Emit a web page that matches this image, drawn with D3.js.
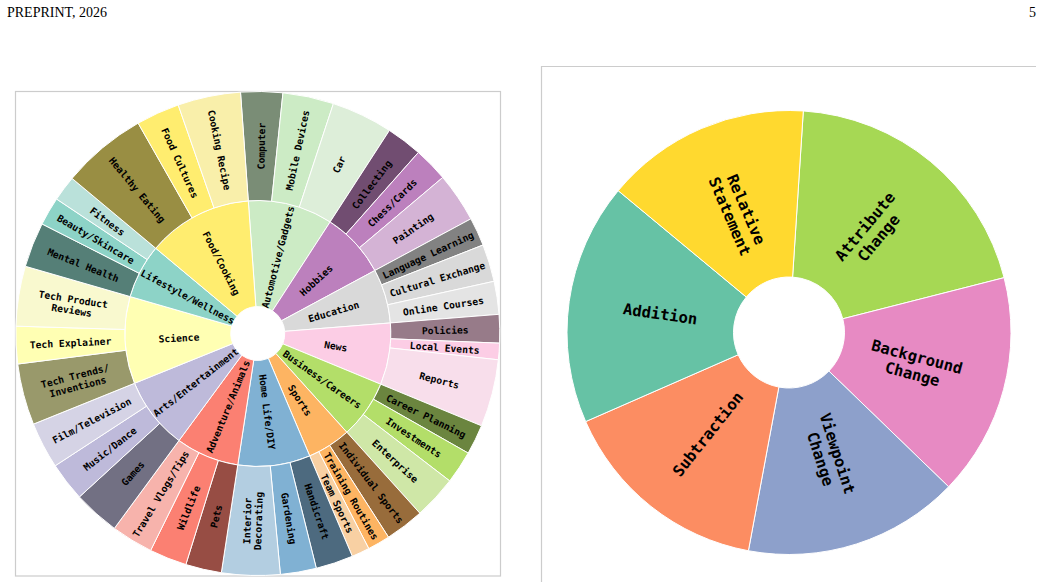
<!DOCTYPE html>
<html>
<head>
<meta charset="utf-8">
<script src="https://cdn.jsdelivr.net/npm/d3@7"></script>
<style>
  body { margin: 0; background: #fff; }
  svg { display: block; }
  .lbl { font-family: "DejaVu Sans Mono", monospace; font-weight: bold; fill: #000; }
  .hdr { font-family: "Liberation Serif", "Times New Roman", serif; font-size: 14px; fill: #000; }
</style>
</head>
<body>
<script>
const width = 1042;
const height = 588;

// ---- sunburst data (clockwise from the top) ----
const categories = [
  "Automotive/Gadgets", "Hobbies", "Education", "News", "Business/Careers", "Sports",
  "Home Life/DIY", "Adventure/Animals", "Arts/Entertainment", "Science",
  "Lifestyle/Wellness", "Food/Cooking"
];
const subcategories = [
  ["Computer", "Mobile Devices", "Car"],
  ["Collecting", "Chess/Cards", "Painting"],
  ["Language Learning", "Cultural Exchange", "Online Courses"],
  ["Policies", "Local Events", "Reports"],
  ["Career Planning", "Investments", "Enterprise"],
  ["Individual Sports", "Training Routines", "Team Sports"],
  ["Handicraft", "Gardening", "Interior\nDecorating"],
  ["Pets", "Wildlife", "Travel Vlogs/Tips"],
  ["Games", "Music/Dance", "Film/Television"],
  ["Tech Trends/\nInventions", "Tech Explainer", "Tech Product\nReviews"],
  ["Mental Health", "Beauty/Skincare", "Fitness"],
  ["Healthy Eating", "Food Cultures", "Cooking Recipe"]
];
// share of each sub-category, in percent
const subValues = [
  [2.8, 3.4, 4.1],
  [2.4, 2.3, 3.3],
  [1.9, 2.5, 2.2],
  [1.9, 1.1, 4.5],
  [2.0, 2.2, 2.9],
  [2.6, 1.5, 1.2],
  [2.5, 2.4, 3.9],
  [2.4, 2.5, 2.8],
  [3.1, 2.6, 3.1],
  [4.1, 2.5, 4.0],
  [3.0, 1.9, 1.7],
  [5.7, 2.9, 4.2]
];
const categoryColors = [
  "#ccebc5", "#bc80bd", "#d9d9d9", "#fccde5", "#b3de69", "#fdb462",
  "#80b1d3", "#fb8072", "#bebada", "#ffffb3", "#8dd3c7", "#ffed6f"
];

// ---- donut data (clockwise from the top) ----
const editTypes = [
  "Attribute\nChange", "Background\nChange", "Viewpoint\nChange",
  "Subtraction", "Addition", "Relative\nStatement"
];
const editShares = [20.0, 16.2, 15.7, 15.5, 17.6, 15.0];
const editColors = ["#a6d854", "#e78ac3", "#8da0cb", "#fc8d62", "#66c2a5", "#ffd92f"];

const svg = d3.select('body')
  .append('svg')
  .attr('width', width)
  .attr('height', height);

// page header
svg.append('text').attr('class', 'hdr').attr('x', 7).attr('y', 17).text('PREPRINT, 2026');
svg.append('text').attr('class', 'hdr').attr('x', 1036).attr('y', 17)
  .attr('text-anchor', 'end').text('5');

// frames
svg.append('rect')
  .attr('x', 15.5).attr('y', 91.5).attr('width', 485).attr('height', 484.5)
  .attr('fill', 'none').attr('stroke', '#cccccc').attr('stroke-width', 1.2);
svg.append('path')
  .attr('d', 'M541.5,582V66.5H1036')
  .attr('fill', 'none').attr('stroke', '#cccccc').attr('stroke-width', 1.2);

// radial text: rotate along the radius, keep it upright
function radialRotation(angle) {
  let r = angle * 180 / Math.PI - 90;
  r = ((r + 180) % 360 + 360) % 360 - 180;
  if (r > 90) r -= 180;
  if (r < -90) r += 180;
  return r;
}

function addLabel(g, label, angle, radius, fontSize) {
  const x = Math.sin(angle) * radius;
  const y = -Math.cos(angle) * radius;
  const lines = label.split('\n');
  const lh = fontSize * 1.15;
  const t = g.append('text')
    .attr('class', 'lbl')
    .attr('font-size', fontSize + 'px')
    .attr('text-anchor', 'middle')
    .attr('dominant-baseline', 'central')
    .attr('transform', `translate(${x},${y}) rotate(${radialRotation(angle)})`);
  lines.forEach((line, i) => {
    t.append('tspan')
      .attr('x', 0)
      .attr('y', (i - (lines.length - 1) / 2) * lh)
      .text(line);
  });
}

// ---- sunburst ----
const sunCx = 257.8, sunCy = 333.5;
const sun = svg.append('g').attr('transform', `translate(${sunCx},${sunCy})`);

const tree = {
  name: 'root',
  children: categories.map((c, i) => ({
    name: c,
    color: categoryColors[i],
    children: subcategories[i].map((s, j) => ({ name: s, value: subValues[i][j] }))
  }))
};

const root = d3.hierarchy(tree).sum(d => d.value || 0);
d3.partition().size([2 * Math.PI, 3])(root);

const startOffset = -4.1 * Math.PI / 180;
const angle = d3.scaleLinear().domain([0, 2 * Math.PI]).range([startOffset, startOffset + 2 * Math.PI]);
const radius = d3.scaleLinear().domain([1, 2, 3]).range([27, 133, 242]);

const sunArc = d3.arc()
  .startAngle(d => angle(d.x0))
  .endAngle(d => angle(d.x1))
  .innerRadius(d => radius(d.y0))
  .outerRadius(d => radius(d.y1));

// children: darker, same, lighter than the parent colour
function nodeColor(d) {
  if (d.depth === 1) return d.data.color;
  const base = d.parent.data.color;
  const k = d.parent.children.indexOf(d);
  if (k === 0) return d3.interpolateRgb(base, '#000')(0.4);
  if (k === 1) return base;
  return d3.interpolateRgb(base, '#f2f2f2')(0.45);
}

const nodes = root.descendants().filter(d => d.depth > 0);

sun.selectAll('path')
  .data(nodes)
  .enter()
  .append('path')
  .attr('d', sunArc)
  .attr('fill', nodeColor)
  .attr('stroke', '#fff')
  .attr('stroke-width', 1);

nodes.forEach(d => {
  const a = angle((d.x0 + d.x1) / 2);
  const r = d.depth === 1 ? 79 : 187.5;
  addLabel(sun, d.data.name, a, r, 9.7);
});

// ---- donut ----
const donCx = 789, donCy = 332.5;
const don = svg.append('g').attr('transform', `translate(${donCx},${donCy})`);

const donStart = 3.7 * Math.PI / 180;
const pie = d3.pie().sort(null).value(d => d)
  .startAngle(donStart).endAngle(donStart + 2 * Math.PI);
const slices = pie(editShares);

const donArc = d3.arc().innerRadius(55.5).outerRadius(222);

don.selectAll('path')
  .data(slices)
  .enter()
  .append('path')
  .attr('d', donArc)
  .attr('fill', (d, i) => editColors[i])
  .attr('stroke', '#fff')
  .attr('stroke-width', 1);

slices.forEach((d, i) => {
  addLabel(don, editTypes[i], (d.startAngle + d.endAngle) / 2, 130, 15.5);
});
</script>
</body>
</html>
